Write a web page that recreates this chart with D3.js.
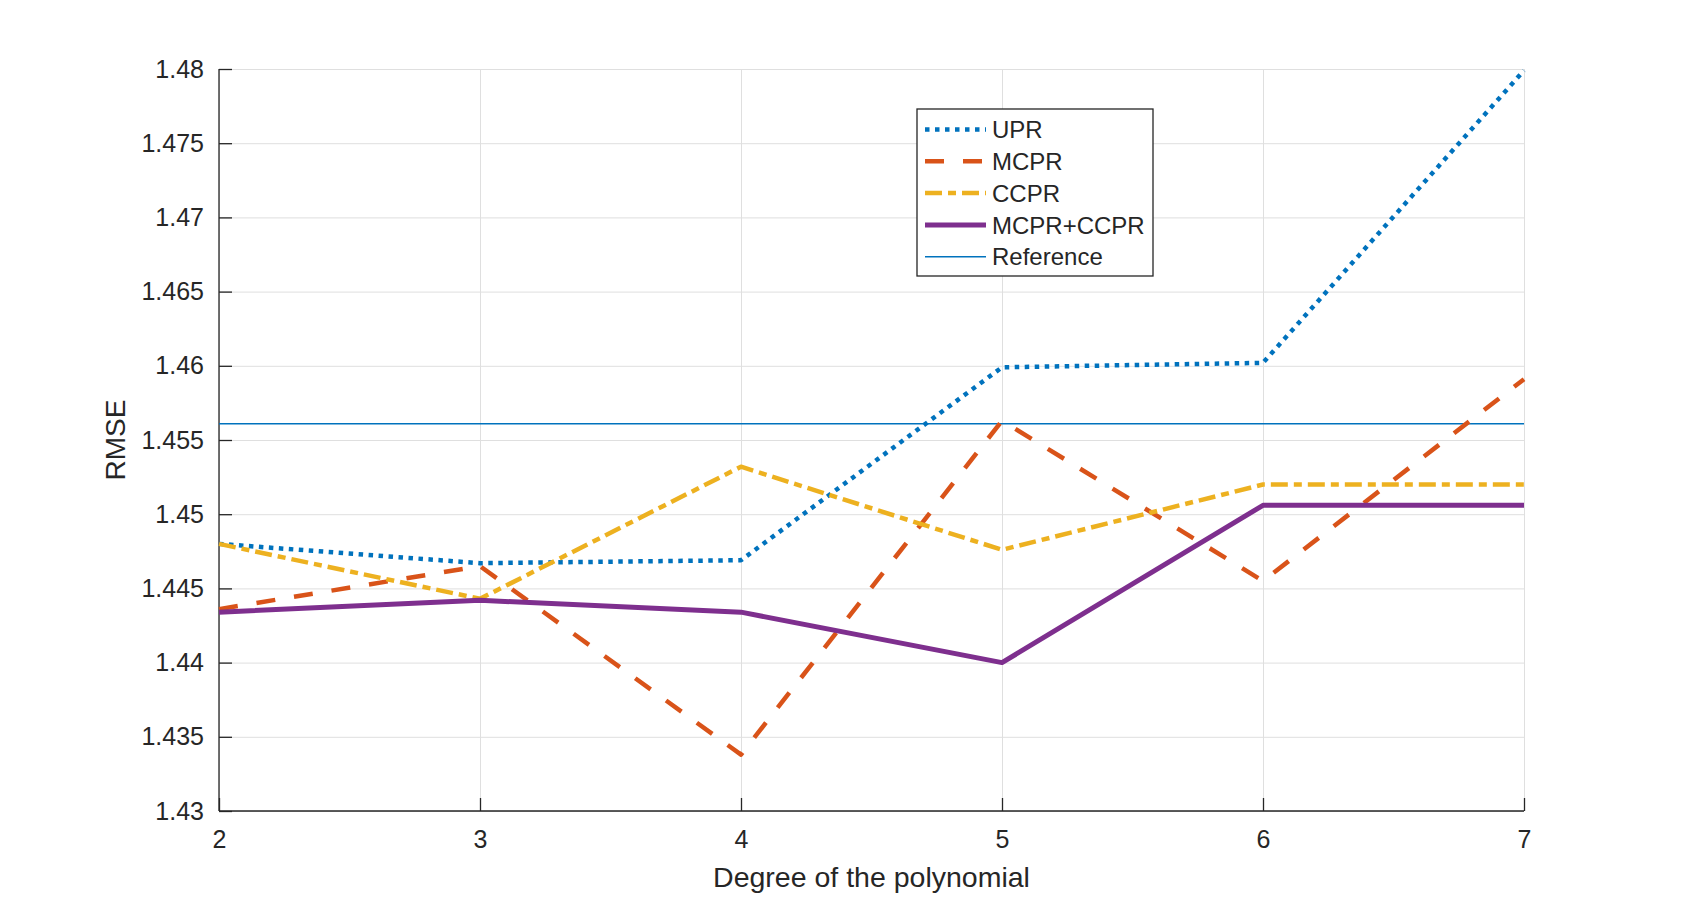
<!DOCTYPE html>
<html>
<head>
<meta charset="utf-8">
<script src="https://cdn.jsdelivr.net/npm/d3@7"></script>
<style>
    body { margin: 0; background: #ffffff; }
    text { font-family: 'Liberation Sans', Arial, sans-serif; fill: #262626; }
    .grid line { stroke: #dfdfdf; stroke-width: 1; }
    .grid path { display: none; }
</style>
</head>
<body>
<div id="chart"></div>
<script>
// Values.
const degrees = [2, 3, 4, 5, 6, 7];
const upr = [1.4480, 1.4467, 1.4469, 1.4599, 1.4602, 1.4799];
const mcpr = [1.4436, 1.4465, 1.4338, 1.4563, 1.4455, 1.4591];
const ccpr = [1.4480, 1.4443, 1.4532, 1.4476, 1.4520, 1.4520];
const mcpr_ccpr = [1.4434, 1.4442, 1.4434, 1.4400, 1.4506, 1.4506];
const reference_rmse = 1.4561;
const y_ticks = [1.43, 1.435, 1.44, 1.445, 1.45, 1.455, 1.46, 1.465, 1.47, 1.475, 1.48];
const series_names = ['UPR', 'MCPR', 'CCPR', 'MCPR+CCPR', 'Reference'];

const series = [
    {name: series_names[0], values: upr, color: '#0072BD', width: 4.5, dash: '4.5,5.5'},
    {name: series_names[1], values: mcpr, color: '#D95319', width: 4.5, dash: '19,19'},
    {name: series_names[2], values: ccpr, color: '#EDB120', width: 4.5, dash: '17,6,8,6'},
    {name: series_names[3], values: mcpr_ccpr, color: '#7E2F8E', width: 5, dash: null},
];

const dims = {
    width: 1684,
    height: 911,
    top: 69,
    left: 219,
    plot_w: 1305,
    plot_h: 742,
};
const plot_w = dims.plot_w;
const plot_h = dims.plot_h;

let svg = d3.select('#chart')
    .append('svg')
    .attr('width', dims.width)
    .attr('height', dims.height)
    .append('g')
    .attr('transform', `translate(${dims.left}, ${dims.top})`);

const x = d3.scaleLinear()
    .domain([2, 7])
    .range([0, plot_w]);

const y = d3.scaleLinear()
    .domain([1.43, 1.48])
    .range([plot_h, 0]);

// grid lines first so they sit under everything
svg.append('g')
    .attr('class', 'grid')
    .call(d3.axisLeft(y).tickValues(y_ticks).tickSize(-plot_w).tickFormat(''));
svg.append('g')
    .attr('class', 'grid')
    .attr('transform', `translate(0, ${plot_h})`)
    .call(d3.axisBottom(x).tickValues(degrees).tickSize(-plot_h).tickFormat(''));

// axes: MATLAB-style ticks pointing inward
const y_axis = svg.append('g')
    .call(d3.axisLeft(y)
        .tickValues(y_ticks)
        .tickSize(-13)
        .tickPadding(15)
        .tickFormat((d) => String(+d.toFixed(3))));
const x_axis = svg.append('g')
    .attr('transform', `translate(0, ${plot_h})`)
    .call(d3.axisBottom(x)
        .tickValues(degrees)
        .tickSize(-13)
        .tickPadding(19)
        .tickFormat(d3.format('d')));

for (let ax of [x_axis, y_axis]) {
    ax.select('.domain').attr('stroke', '#262626').attr('stroke-width', 1.3);
    ax.selectAll('.tick line').attr('stroke', '#262626').attr('stroke-width', 1.3);
    ax.selectAll('.tick text')
        .attr('font-size', 25)
        .attr('fill', '#262626');
}
// d3 puts the domain end caps outward; redraw plain lines
x_axis.select('.domain').attr('d', `M0,0H${plot_w}`);
y_axis.select('.domain').attr('d', `M0,${plot_h}V0`);

// reference line
svg.append('line')
    .attr('x1', x(2))
    .attr('x2', x(7))
    .attr('y1', y(reference_rmse))
    .attr('y2', y(reference_rmse))
    .attr('stroke', '#0072BD')
    .attr('stroke-width', 1.5);

const line = d3.line()
    .x((d, i) => x(degrees[i]))
    .y((d) => y(d));

svg.selectAll('.series')
    .data(series)
    .join('path')
        .attr('class', 'series')
        .attr('fill', 'none')
        .attr('stroke', (d) => d.color)
        .attr('stroke-width', (d) => d.width)
        .attr('stroke-dasharray', (d) => d.dash)
        .attr('stroke-linejoin', 'round')
        .attr('d', (d) => line(d.values));

// axis titles
svg.append('text')
    .attr('x', plot_w / 2)
    .attr('y', 818)
    .attr('text-anchor', 'middle')
    .attr('font-size', 28.5)
    .text('Degree of the polynomial');

svg.append('text')
    .attr('transform', `translate(${125 - dims.left}, ${plot_h / 2}) rotate(-90)`)
    .attr('text-anchor', 'middle')
    .attr('font-size', 28)
    .text('RMSE');

// legend
const legend = d3.select('svg').append('g')
    .attr('transform', 'translate(917, 109)');
legend.append('rect')
    .attr('width', 236)
    .attr('height', 167)
    .attr('fill', '#ffffff')
    .attr('stroke', '#262626')
    .attr('stroke-width', 1.3);

const legend_items = series.concat([
    {name: series_names[4], color: '#0072BD', width: 1.5, dash: null},
]);
const rows = legend.selectAll('.item')
    .data(legend_items)
    .join('g')
        .attr('class', 'item')
        .attr('transform', (d, i) => `translate(0, ${20.5 + i * 31.8})`);
rows.append('line')
    .attr('x1', 8)
    .attr('x2', 69)
    .attr('stroke', (d) => d.color)
    .attr('stroke-width', (d) => d.width)
    .attr('stroke-dasharray', (d) => d.dash);
rows.append('text')
    .attr('x', 75)
    .attr('dy', '0.36em')
    .attr('font-size', 24)
    .text((d) => d.name);
</script>
</body>
</html>
